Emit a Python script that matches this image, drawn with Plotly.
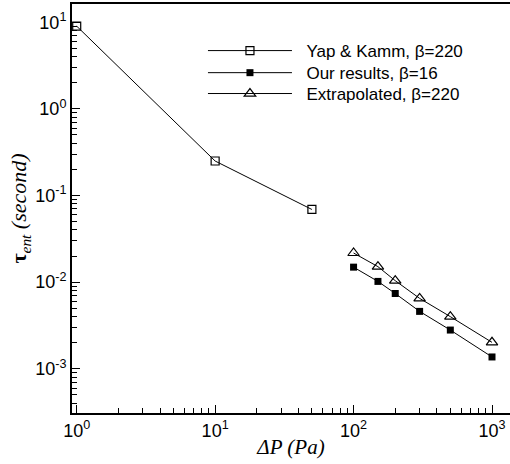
import plotly.graph_objects as go

# Data
yap_x = [1, 10, 50]
yap_y = [9.0, 0.25, 0.069]
our_x = [100, 150, 200, 300, 500, 1000]
our_y = [0.0149, 0.0102, 0.0074, 0.0046, 0.0028, 0.00137]
ext_x = [100, 150, 200, 300, 500, 1000]
ext_y = [0.0217, 0.0151, 0.0104, 0.0065, 0.0040, 0.00202]

x_tickvals = [1, 10, 100, 1000]
x_ticktext = ["10<sup>0</sup>", "10<sup>1</sup>", "10<sup>2</sup>", "10<sup>3</sup>"]
y_tickvals = [0.001, 0.01, 0.1, 1, 10]
y_ticktext = ["10<sup>-3</sup>", "10<sup>-2</sup>", "10<sup>-1</sup>", "10<sup>0</sup>", "10<sup>1</sup>"]

names = ["Yap &amp; Kamm, β=220", "Our results, β=16", "Extrapolated, β=220"]
pad = "\u00a0\u00a0"

fig = go.Figure()
fig.add_trace(go.Scatter(x=yap_x, y=yap_y, mode="lines+markers", name=pad + names[0], legend="legend",
                         line=dict(color="black", width=1),
                         marker=dict(symbol="square-open", size=8, color="black", line=dict(width=1.2))))
fig.add_trace(go.Scatter(x=our_x, y=our_y, mode="lines+markers", name=pad + names[1], legend="legend2",
                         line=dict(color="black", width=1),
                         marker=dict(symbol="square", size=7, color="black")))
fig.add_trace(go.Scatter(x=ext_x, y=ext_y, mode="lines+markers", name=pad + names[2], legend="legend3",
                         line=dict(color="black", width=1),
                         marker=dict(symbol="triangle-up-open", size=10, color="black", line=dict(width=1.2))))

axis_font = dict(family="Liberation Sans, Arial", size=18, color="black")

fig.update_xaxes(type="log", range=[-0.034, 3.13],
                 tickvals=x_tickvals, ticktext=x_ticktext,
                 ticks="inside", ticklen=8, tickwidth=1, tickcolor="black",
                 minor=dict(ticks="inside", ticklen=5, tickwidth=1, tickcolor="black", dtick="D1", showgrid=False),
                 showline=True, linewidth=2, linecolor="black", mirror=True,
                 showgrid=False, zeroline=False, tickfont=axis_font,
                 title=dict(text="<i>ΔP (Pa)</i>", font=dict(family="Liberation Serif, Times New Roman", size=21, color="black"),
                            standoff=0))
fig.update_yaxes(type="log", range=[-3.51, 1.21],
                 tickvals=y_tickvals, ticktext=y_ticktext,
                 ticks="inside", ticklen=8, tickwidth=1, tickcolor="black",
                 minor=dict(ticks="inside", ticklen=5, tickwidth=1, tickcolor="black", dtick="D1", showgrid=False),
                 showline=True, linewidth=2, linecolor="black", mirror=False,
                 showgrid=False, zeroline=False, tickfont=axis_font,
                 title=dict(text="<b>τ</b><sub><i>ent</i></sub><i> (second)</i>",
                            font=dict(family="Liberation Serif, Times New Roman", size=22, color="black"),
                            standoff=2))

leg_common = dict(x=0.299, xanchor="left", yanchor="middle",
                  font=dict(family="Liberation Sans, Arial", size=17, color="black"),
                  itemwidth=84, bgcolor="rgba(0,0,0,0)", borderwidth=0)

fig.update_layout(width=510, height=464, margin=dict(l=72, r=0, t=4, b=51),
                  paper_bgcolor="white", plot_bgcolor="white",
                  showlegend=True,
                  legend=dict(y=0.885, **leg_common),
                  legend2=dict(y=0.831, **leg_common),
                  legend3=dict(y=0.780, **leg_common))

fig.write_html("out.html", config={"displayModeBar": False},
               post_script="document.body.style.margin='0';document.body.style.overflow='hidden';"
                           "document.documentElement.style.overflow='hidden';")
